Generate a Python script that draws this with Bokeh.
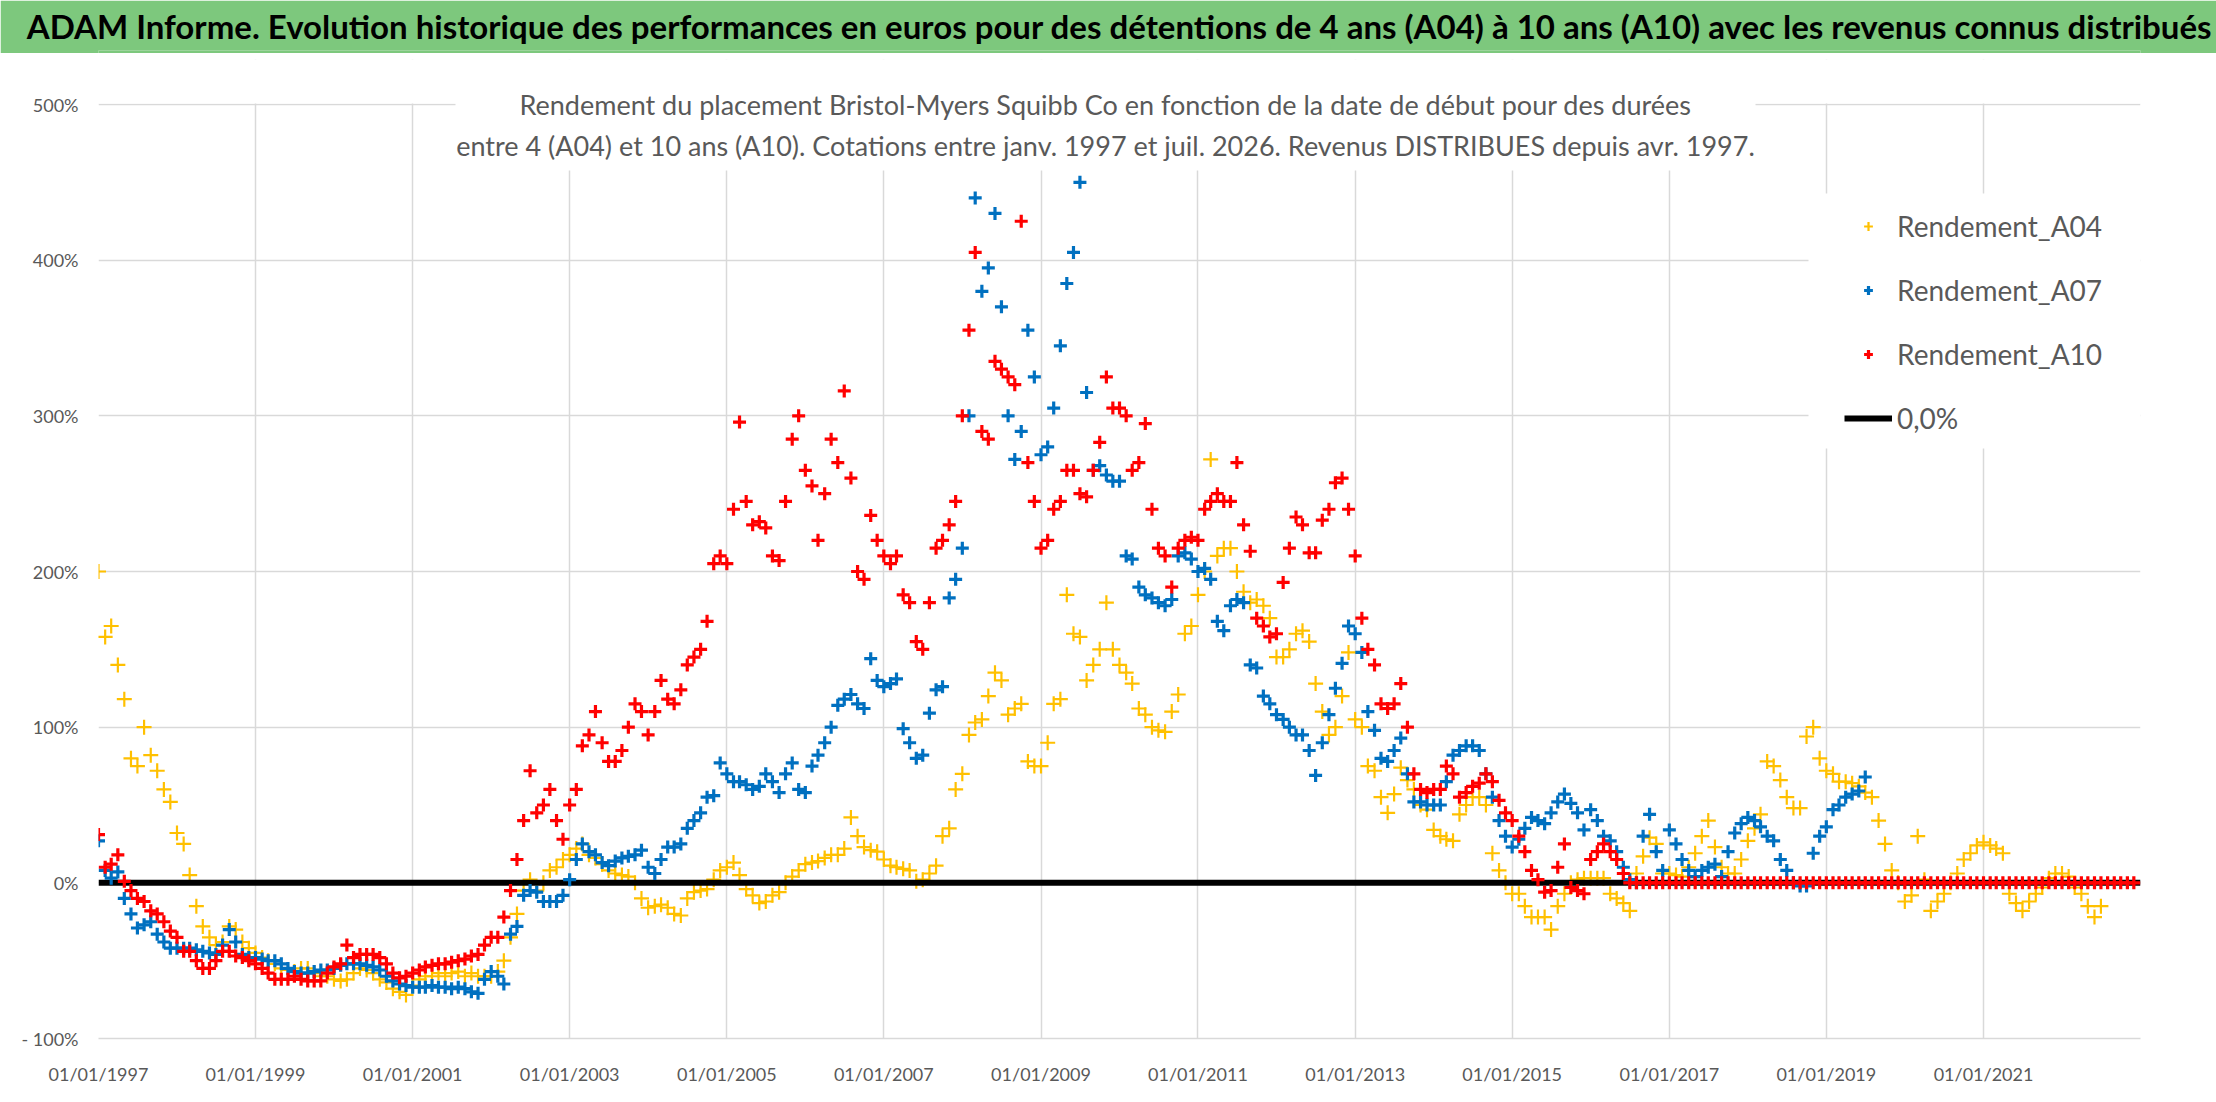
import pandas as pd
from bokeh.plotting import figure
from bokeh.models import (Range1d, FixedTicker, DatetimeTickFormatter, Legend, LegendItem,
                          Label, BoxAnnotation, Plot, Title, Spacer)
from bokeh.layouts import column
from bokeh.embed import file_html
from bokeh.resources import INLINE

# ---------------- texts ----------------
TITLE = ("ADAM Informe. Evolution historique des performances en euros pour des détentions "
         "de 4 ans (A04) à 10 ans (A10) avec les revenus connus distribués")
SUB1 = "Rendement du placement Bristol-Myers Squibb Co en fonction de la date de début pour des durées"
SUB2 = ("entre 4 (A04) et 10 ans (A10). Cotations entre janv. 1997 et juil. 2026. "
        "Revenus DISTRIBUES depuis avr. 1997.")
SERIES_NAMES = ["Rendement_A04", "Rendement_A07", "Rendement_A10"]
ZERO_NAME = "0,0%"

# ---------------- data (monthly readings, % ) ----------------
A04_START = "1997-01-01"
A04 = [
    200, 158, 165, 140, 118, 80, 75, 100, 82, 72, 60, 52,          # 1997
    32, 25, 5, -15, -28, -35, -40, -38, -28, -30, -38, -42,        # 1998
    -45, -48, -50, -52, -55, -56, -57, -55, -55, -58, -60, -60,    # 1999
    -62, -63, -62, -58, -55, -56, -58, -62, -64, -68, -70, -72,    # 2000
    -66, -62, -60, -60, -58, -60, -58, -57, -60, -58, -60, -60,    # 2001
    -60, -57, -50, -35, -20, -5, 2, -5, 0, 8, 10, 15,              # 2002
    18, 22, 25, 18, 16, 12, 8, 6, 5, 4, 0, -10,                    # 2003
    -16, -15, -14, -16, -20, -21, -10, -6, -5, -4, 2, 8,           # 2004
    10, 13, 5, -4, -8, -13, -12, -8, -6, 0, 4, 8,                  # 2005
    12, 13, 14, 16, 18, 18, 22, 42, 30, 23, 21, 20,                # 2006
    15, 11, 10, 9, 8, 1, 2, 6, 11, 30, 35, 60,                     # 2007
    70, 95, 103, 105, 120, 135, 130, 108, 112, 115, 78, 75,        # 2008
    75, 90, 115, 118, 185, 160, 158, 130, 140, 150, 180, 150,      # 2009
    140, 135, 128, 112, 108, 100, 98, 97, 110, 121, 160, 165,      # 2010
    185, 200, 272, 210, 215, 215, 200, 187, 180, 182, 178, 170,    # 2011
    145, 145, 150, 160, 162, 155, 128, 110, 95, 100, 120, 148,     # 2012
    105, 100, 75, 72, 55, 45, 57, 74, 66, 60, 50, 47,              # 2013
    34, 30, 28, 27, 44, 50, 55, 55, 50, 19, 8, 0,                  # 2014
    -7, -7, -15, -22, -22, -22, -30, -15, -7, 0, 2, 3,             # 2015
    3, 3, 3, -7, -10, -13, -18, 6, 17, 29, 25, 6,                  # 2016
    6, 5, 4, 10, 19, 30, 40, 23, 10, 6, 6, 15,                     # 2017
    27, 35, 44, 78, 75, 66, 55, 48, 48, 94, 100, 80,               # 2018
    72, 70, 65, 65, 64, 62, 58, 55, 40, 25, 8, 0,                  # 2019
    -12, -8, 30, 2, -18, -12, -7, 0, 6, 15, 19, 24,                # 2020
    26, 24, 22, 19, -7, -13, -18, -12, -7, -3, 3, 6,               # 2021
    6, 4, -3, -7, -15, -22, -15,                                   # 2022
]

A07_START = "1997-01-01"
A07 = [
    27, 8, 3, 7, -10, -20, -29, -27, -25, -33, -38, -42,           # 1997
    -42, -42, -42, -43, -44, -45, -46, -40, -30, -38, -46, -48,    # 1998
    -48, -49, -50, -50, -52, -55, -57, -58, -58, -57, -56, -56,    # 1999
    -55, -53, -52, -52, -52, -53, -54, -56, -60, -63, -65, -66,    # 2000
    -67, -67, -67, -66, -67, -67, -68, -67, -68, -70, -71, -62,    # 2001
    -57, -60, -65, -33, -28, -8, -5, -6, -12, -12, -12, -8,        # 2002
    2, 15, 25, 20, 18, 13, 11, 14, 16, 17, 18, 21,                 # 2003
    10, 6, 15, 23, 23, 25, 35, 40, 45, 55, 56, 77,                 # 2004
    70, 65, 65, 63, 60, 62, 70, 65, 58, 70, 77, 60,                # 2005
    58, 75, 82, 90, 100, 114, 118, 121, 115, 112, 144, 130,        # 2006
    126, 128, 131, 99, 90, 80, 82, 109, 124, 126, 183, 195,        # 2007
    215, 300, 440, 380, 395, 430, 370, 300, 272, 290, 355, 325,    # 2008
    275, 280, 305, 345, 385, 405, 450, 315, 265, 268, 262, 258,    # 2009
    258, 210, 208, 190, 185, 183, 180, 178, 182, 210, 212, 208,    # 2010
    200, 202, 195, 168, 162, 178, 182, 180, 140, 138, 120, 115,    # 2011
    108, 105, 100, 95, 95, 85, 69, 90, 108, 125, 141, 165,         # 2012
    160, 148, 110, 98, 80, 78, 85, 93, 70, 52, 52, 50,             # 2013
    50, 50, 65, 82, 85, 88, 88, 85, 70, 55, 40, 30,                # 2014
    23, 28, 35, 42, 40, 38, 45, 52, 57, 51, 45, 34,                # 2015
    47, 40, 30, 27, 20, 10, 2, 0, 30, 44, 20, 8,                   # 2016
    34, 25, 15, 8, 4, 8, 10, 12, 4, 20, 32, 38,                    # 2017
    42, 40, 36, 30, 27, 15, 8, 0, -2, -2, 19, 30,                  # 2018
    36, 47, 50, 55, 57, 59, 68,                                    # 2019
]

A10_START = "1997-01-01"
A10 = [
    31, 10, 12, 18, 1, -5, -10, -12, -18, -20, -25, -31,           # 1997
    -35, -44, -44, -50, -55, -55, -50, -44, -44, -47, -48, -50,    # 1998
    -52, -55, -58, -62, -62, -62, -60, -62, -63, -63, -63, -58,    # 1999
    -54, -52, -40, -48, -46, -46, -46, -48, -52, -58, -61, -60,    # 2000
    -58, -56, -54, -53, -52, -52, -51, -50, -49, -47, -46, -40,    # 2001
    -35, -35, -22, -5, 15, 40, 72, 45, 50, 60, 40, 28,             # 2002
    50, 60, 88, 95, 110, 90, 78, 78, 85, 100, 115, 110,            # 2003
    95, 110, 130, 118, 115, 124, 140, 145, 150, 168, 205, 210,     # 2004
    205, 240, 296, 245, 230, 232, 228, 210, 207, 245, 285, 300,    # 2005
    265, 255, 220, 250, 285, 270, 316, 260, 200, 195, 236, 220,    # 2006
    210, 205, 210, 185, 180, 155, 150, 180, 215, 220, 230, 245,    # 2007
    300, 355, 405, 290, 285, 335, 330, 325, 320, 425, 270, 245,    # 2008
    215, 220, 240, 245, 265, 265, 250, 248, 265, 283, 325, 305,    # 2009
    305, 300, 265, 270, 295, 240, 215, 210, 190, 215, 220, 222,    # 2010
    220, 240, 245, 250, 245, 245, 270, 230, 213, 170, 165, 158,    # 2011
    160, 193, 215, 235, 230, 212, 212, 233, 240, 257, 260, 240,    # 2012
    210, 170, 150, 140, 115, 112, 115, 128, 100, 70, 60, 58,       # 2013
    60, 60, 75, 70, 55, 58, 62, 64, 70, 65, 53, 45,                # 2014
    40, 30, 20, 8, 2, -6, -5, 10, 25, -3, -5, -7,                  # 2015
    15, 20, 25, 20, 15, 6, 0, 0, 0, 0, 0, 0,                       # 2016
    0, 0, 0, 0, 0, 0, 0, 0, 0, 0, 0, 0,                            # 2017
    0, 0, 0, 0, 0, 0, 0, 0, 0, 0, 0, 0,                            # 2018
    0, 0, 0, 0, 0, 0, 0, 0, 0, 0, 0, 0,                            # 2019
    0, 0, 0, 0, 0, 0, 0, 0, 0, 0, 0, 0,                            # 2020
    0, 0, 0, 0, 0, 0, 0, 0, 0, 0, 0, 0,                            # 2021
    0, 0, 0, 0, 0, 0, 0, 0, 0, 0, 0, 0,                            # 2022
]

ZERO_X = ["1997-01-01", "2023-01-01"]
ZERO_Y = [0, 0]

X_START, X_END = "1997-01-01", "2023-01-01"
X_TICK_DATES = ["1997-01-01", "1999-01-01", "2001-01-01", "2003-01-01", "2005-01-01",
                "2007-01-01", "2009-01-01", "2011-01-01", "2013-01-01", "2015-01-01",
                "2017-01-01", "2019-01-01", "2021-01-01"]
Y_MIN, Y_MAX = -100, 500
Y_TICKS = [-100, 0, 100, 200, 300, 400, 500]
Y_TICK_LABELS = ["- 100%", "0%", "100%", "200%", "300%", "400%", "500%"]

# ---------------- style ----------------
FONT = "Lato"
GREEN = "#7DC87D"
GRID = "#D9D9D9"
TXT = "#595959"
C04, C07, C10 = "#FFC000", "#0070C0", "#FF0000"

W = 2216
BANNER_H = 53
MAIN_H = 1043
FRAME_BOTTOM = 979           # canvas px of the frame bottom in the main figure
PX_PER_PCT = 934 / 600       # vertical scale of the reference chart


def ms(d):
    return pd.Timestamp(d).value / 1e6


# ---------------- banner (full-width green band, title in its own panel) ----------------
banner = Plot(width=W, height=BANNER_H, x_range=Range1d(0, 1), y_range=Range1d(0, 1),
              min_border=0, toolbar_location=None, outline_line_color=None,
              background_fill_color=GREEN, border_fill_color=GREEN, output_backend="svg",
              title=Title(text=TITLE, align="center", vertical_align="middle", standoff=8,
                          text_font=FONT, text_font_size="33px", text_font_style="bold",
                          text_color="black"))

sep = Plot(width=W, height=2, x_range=Range1d(0, 1), y_range=Range1d(0, 1), min_border=0,
           toolbar_location=None, outline_line_color=None, background_fill_color="#D4D4D4",
           border_fill_color="#D4D4D4", output_backend="svg")

# ---------------- main chart ----------------
y_top = Y_MIN + FRAME_BOTTOM / PX_PER_PCT
p = figure(width=W, height=MAIN_H, x_axis_type="datetime",
           x_range=Range1d(ms(X_START), ms(X_END)), y_range=Range1d(Y_MIN, y_top),
           output_backend="svg", toolbar_location=None,
           min_border_left=98, min_border_right=76, min_border_top=0,
           min_border_bottom=MAIN_H - FRAME_BOTTOM,
           background_fill_color="white", border_fill_color="white", outline_line_color=None)

xt = FixedTicker(ticks=[ms(d) for d in X_TICK_DATES])
p.xaxis.ticker = xt
p.xgrid.ticker = xt
fmt = "%d/%m/%Y"
p.xaxis.formatter = DatetimeTickFormatter(years=fmt, months=fmt, days=fmt, hours=fmt,
                                          hourmin=fmt, minutes=fmt, minsec=fmt, seconds=fmt,
                                          milliseconds=fmt, microseconds=fmt)
yt = FixedTicker(ticks=Y_TICKS)
p.yaxis.ticker = yt
p.ygrid.ticker = yt
p.yaxis.major_label_overrides = {int(k): v for k, v in zip(Y_TICKS, Y_TICK_LABELS)}

for ax in (p.xaxis[0], p.yaxis[0]):
    ax.major_tick_line_color = None
    ax.minor_tick_line_color = None
    ax.major_label_text_font = FONT
    ax.major_label_text_font_size = "18px"
    ax.major_label_text_color = TXT
p.xaxis.axis_line_color = GRID
p.xaxis.axis_line_width = 1.5
p.yaxis.axis_line_color = None
p.xaxis.major_label_standoff = 18
p.yaxis.major_label_standoff = 14
for g in (p.xgrid[0], p.ygrid[0]):
    g.grid_line_color = GRID
    g.grid_line_width = 1.5

# blank out everything above the 500% gridline
p.add_layout(BoxAnnotation(bottom=Y_MAX + 0.6, fill_color="white", fill_alpha=1,
                           line_color=None, level="underlay"))

d04 = pd.date_range(A04_START, periods=len(A04), freq="MS")
d07 = pd.date_range(A07_START, periods=len(A07), freq="MS")
d10 = pd.date_range(A10_START, periods=len(A10), freq="MS")

r04 = p.scatter(x=d04, y=A04, marker="cross", size=15, line_color=C04, line_width=2.2)
rz = p.line(x=[pd.Timestamp(d) for d in ZERO_X], y=ZERO_Y, line_color="black", line_width=6)
r07 = p.scatter(x=d07, y=A07, marker="cross", size=13, line_color=C07, line_width=3.2)
r10 = p.scatter(x=d10, y=A10, marker="cross", size=13, line_color=C10, line_width=3.2)

# white background behind subtitle
p.add_layout(BoxAnnotation(left=455, right=1755, top=0, bottom=111,
                           left_units="canvas", right_units="canvas",
                           top_units="canvas", bottom_units="canvas",
                           fill_color="white", fill_alpha=1, line_color=None))
for txt, yy in ((SUB1, 45), (SUB2, 86)):
    p.add_layout(Label(x=1105, y=yy, x_units="canvas", y_units="canvas", text=txt,
                       text_align="center", text_baseline="middle", text_font=FONT,
                       text_font_size="27px", text_color=TXT))

# white background behind legend
p.add_layout(BoxAnnotation(left=1808, right=2140, top=134, bottom=389,
                           left_units="canvas", right_units="canvas",
                           top_units="canvas", bottom_units="canvas",
                           fill_color="white", fill_alpha=1, line_color=None))
legend = Legend(items=[LegendItem(label=SERIES_NAMES[0], renderers=[r04]),
                       LegendItem(label=SERIES_NAMES[1], renderers=[r07]),
                       LegendItem(label=SERIES_NAMES[2], renderers=[r10]),
                       LegendItem(label=ZERO_NAME, renderers=[rz])],
                location=(1746, 600), orientation="vertical", glyph_width=48, glyph_height=22,
                label_standoff=5, spacing=24, label_height=40, padding=10, margin=0,
                background_fill_alpha=0, border_line_color=None,
                label_text_font=FONT, label_text_font_size="28px",
                label_text_color=TXT)
p.add_layout(legend)

layout = column(banner, Spacer(width=W, height=3), sep, Spacer(width=W, height=1), p,
                spacing=0)
open("out.html", "w").write(file_html(layout, INLINE))
